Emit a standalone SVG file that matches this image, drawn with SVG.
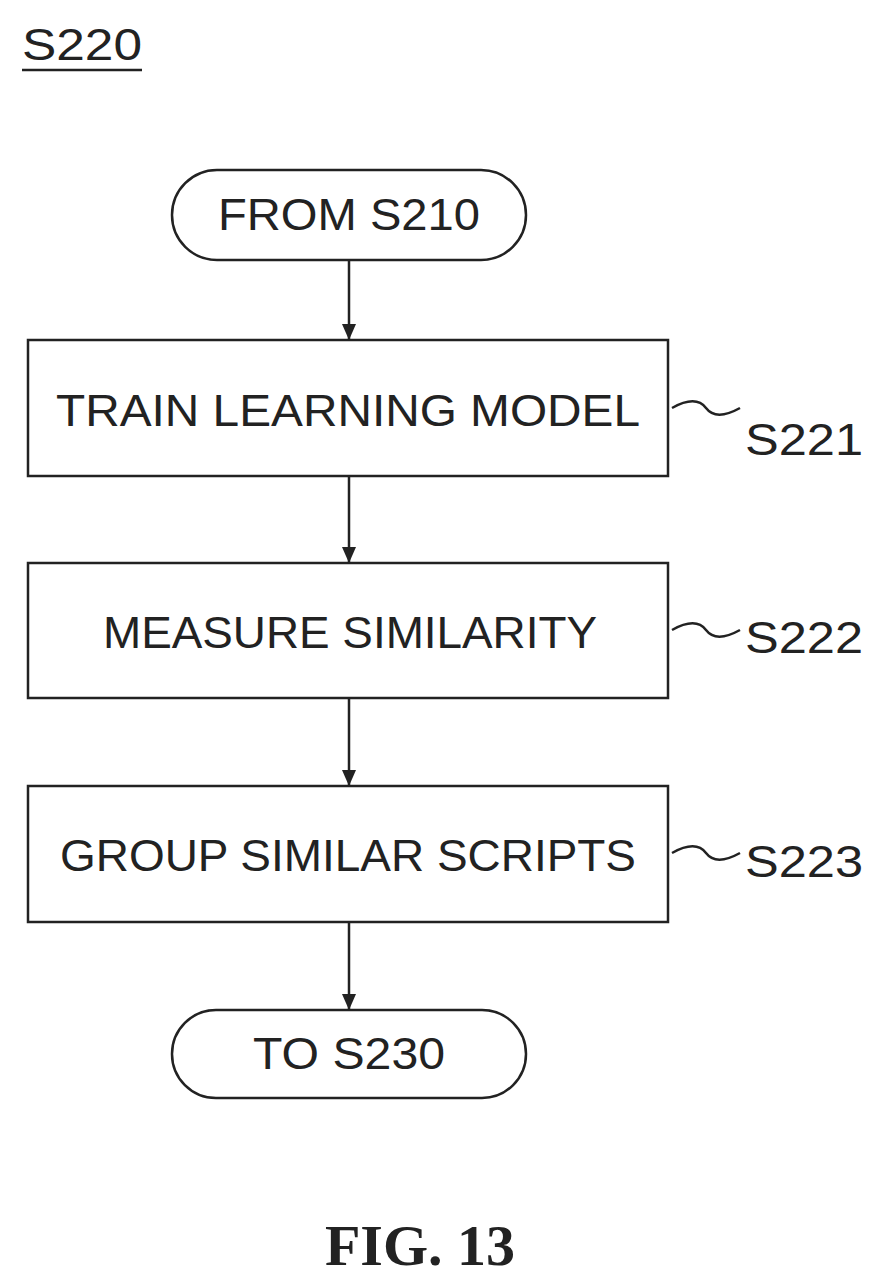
<svg xmlns="http://www.w3.org/2000/svg" width="886" height="1286" viewBox="0 0 886 1286">
<defs>
<marker id="ah" markerWidth="16" markerHeight="14" refX="16" refY="7" orient="auto" markerUnits="userSpaceOnUse" viewBox="0 0 16 14">
<path d="M0,0 L16,7 L0,14 Z" fill="#222"/>
</marker>
<style>
.s{fill:#fff;stroke:#222;stroke-width:2.5}
.t{font-family:"Liberation Sans",Arial,sans-serif;font-size:44px;fill:#222;text-anchor:middle}
.l{font-family:"Liberation Sans",Arial,sans-serif;font-size:44px;fill:#222}
.c{stroke:#222;stroke-width:2.5;fill:none}
</style>
</defs>
<rect width="886" height="1286" fill="#fff"/>
<g id="title">
<text class="l" x="22" y="60" textLength="120" lengthAdjust="spacingAndGlyphs">S220</text>
<line x1="22" y1="70" x2="142" y2="70" class="c"/>
</g>
<g id="start">
<rect class="s" x="172" y="170" width="354" height="90" rx="45"/>
<text class="t" x="349" y="230" textLength="262" lengthAdjust="spacingAndGlyphs">FROM S210</text>
</g>
<g id="s221">
<rect class="s" x="28" y="340" width="640" height="136"/>
<text class="t" x="348" y="426" textLength="584" lengthAdjust="spacingAndGlyphs">TRAIN LEARNING MODEL</text>
<text class="l" x="745" y="455" textLength="118" lengthAdjust="spacingAndGlyphs">S221</text>
</g>
<g id="s222">
<rect class="s" x="28" y="563" width="640" height="135"/>
<text class="t" x="350" y="648" textLength="494" lengthAdjust="spacingAndGlyphs">MEASURE SIMILARITY</text>
<text class="l" x="745" y="653" textLength="118" lengthAdjust="spacingAndGlyphs">S222</text>
</g>
<g id="s223">
<rect class="s" x="28" y="786" width="640" height="136"/>
<text class="t" x="348" y="871" textLength="576" lengthAdjust="spacingAndGlyphs">GROUP SIMILAR SCRIPTS</text>
<text class="l" x="745" y="877" textLength="118" lengthAdjust="spacingAndGlyphs">S223</text>
</g>
<g id="end">
<rect class="s" x="172" y="1010" width="354" height="88" rx="44"/>
<text class="t" x="349" y="1069" textLength="192" lengthAdjust="spacingAndGlyphs">TO S230</text>
</g>
<g id="connectors">
<line class="c" x1="349" y1="260" x2="349" y2="340" marker-end="url(#ah)"/>
<line class="c" x1="349" y1="476" x2="349" y2="563" marker-end="url(#ah)"/>
<line class="c" x1="349" y1="698" x2="349" y2="786" marker-end="url(#ah)"/>
<line class="c" x1="349" y1="922" x2="349" y2="1010" marker-end="url(#ah)"/>
<path class="c" d="M672,408 C690,398 700,400 706,408 S722,418 740,408"/>
<path class="c" d="M672,630 C690,620 700,622 706,630 S722,640 740,630"/>
<path class="c" d="M672,853 C690,843 700,845 706,853 S722,863 740,853"/>
</g>
<g id="fig">
<text x="420" y="1265" font-family="Liberation Serif,serif" font-weight="bold" font-size="58" text-anchor="middle" fill="#222">FIG. 13</text>
</g>
</svg>
